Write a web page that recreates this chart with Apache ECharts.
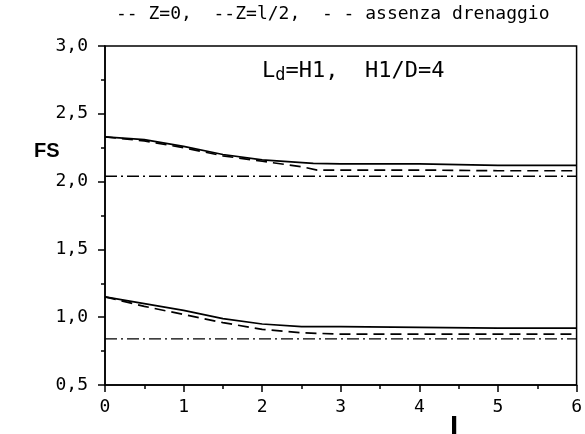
<!DOCTYPE html>
<html><head><meta charset="utf-8">
<script src="https://cdn.jsdelivr.net/npm/echarts@6/dist/echarts.min.js"></script>
<style>html,body{margin:0;padding:0;background:#fff}#c{width:585px;height:434px}</style>
</head><body><div id="c"></div>
<script>
// Data
const xUpper = [0, 0.5, 1.0, 1.5, 2.0, 2.65, 3, 4, 5, 6];
const z0Upper = [2.33, 2.31, 2.26, 2.20, 2.16, 2.135, 2.13, 2.13, 2.12, 2.12];
const xDashUpper = [0, 0.5, 1.0, 1.5, 2.0, 2.5, 2.7, 3, 4, 5, 6];
const zHalfUpper = [2.33, 2.30, 2.25, 2.19, 2.15, 2.11, 2.085, 2.085, 2.085, 2.08, 2.08];
const xLower = [0, 0.5, 1.0, 1.5, 2.0, 2.5, 3, 4, 5, 6];
const z0Lower = [1.15, 1.10, 1.05, 0.99, 0.95, 0.93, 0.93, 0.925, 0.92, 0.92];
const zHalfLower = [1.15, 1.08, 1.02, 0.96, 0.91, 0.885, 0.875, 0.875, 0.875, 0.875];
const xNoDrain = [0, 6];
const noDrainUpper = [2.04, 2.04];
const noDrainLower = [0.84, 0.84];
const yTicks = [0.5, 1.0, 1.5, 2.0, 2.5, 3.0];
const xTicks = [0, 1, 2, 3, 4, 5, 6];
const legendText = '-- Z=0,  --Z=l/2,  - - assenza drenaggio';

const pairs = (xs, ys) => xs.map((x, i) => [x, ys[i]]);
const solid = {color: '#000', width: 1.7, type: 'solid'};
const dashed = {color: '#000', width: 1.7, type: [11, 6]};
const dashdot = {color: '#000', width: 1.4, type: [12, 4, 2, 4]};
const mk = (name, data, ls) => ({name, type: 'line', data, showSymbol: false, symbol: 'none', lineStyle: ls, animation: false});

const mono = '"DejaVu Sans Mono"';

const chart = echarts.init(document.getElementById('c'), null, {renderer: 'canvas'});
chart.setOption({
  animation: false,
  backgroundColor: '#fff',
  grid: {left: 105, right: 6, top: 46, bottom: 49, show: true, borderColor: '#000', borderWidth: 1.5},
  xAxis: {
    type: 'value', min: 0, max: 6, interval: 1,
    axisLine: {lineStyle: {color: '#000', width: 1.5}},
    axisTick: {inside: false, length: 7, lineStyle: {color: '#000', width: 1.5}},
    minorTick: {show: true, splitNumber: 2, length: 4, lineStyle: {color: '#000', width: 1.5}},
    splitLine: {show: false},
    axisLabel: {color: '#000', fontSize: 18, fontFamily: mono, margin: 13,
      formatter: v => String(v)}
  },
  yAxis: {
    type: 'value', min: 0.5, max: 3.0, interval: 0.5,
    axisLine: {lineStyle: {color: '#000', width: 1.5}},
    axisTick: {inside: false, length: 7, lineStyle: {color: '#000', width: 1.5}},
    minorTick: {show: true, splitNumber: 2, length: 4, lineStyle: {color: '#000', width: 1.5}},
    splitLine: {show: false},
    axisLabel: {color: '#000', fontSize: 18, fontFamily: mono, margin: 17,
      formatter: v => v.toFixed(1).replace('.', ',')}
  },
  series: [
    mk('Z=0', pairs(xUpper, z0Upper), solid),
    mk('Z=0 ', pairs(xLower, z0Lower), solid),
    mk('Z=l/2', pairs(xDashUpper, zHalfUpper), dashed),
    mk('Z=l/2 ', pairs(xLower, zHalfLower), dashed),
    mk('assenza drenaggio', pairs(xNoDrain, noDrainUpper), dashdot),
    mk('assenza drenaggio ', pairs(xNoDrain, noDrainLower), dashdot)
  ],
  graphic: [
    {type: 'text', left: 116, top: 5, style: {text: legendText, fill: '#000', font: '18px "DejaVu Sans Mono", monospace'}},
    {type: 'text', left: 34, top: 141, style: {text: 'FS', fill: '#000', font: 'bold 20px "Liberation Sans", sans-serif'}},
    {type: 'text', left: 450, top: 417, style: {text: 'l', fill: '#000', font: 'bold 24px "DejaVu Sans", sans-serif'}},
    {type: 'text', left: 262, top: 60, style: {
      rich: {
        b: {fill: '#000', font: '22px "DejaVu Sans Mono", monospace'},
        s: {fill: '#000', font: '17px "DejaVu Sans Mono", monospace', verticalAlign: 'bottom', padding: [10, 0, 0, 0]}
      },
      text: '{b|L}{s|d}{b|=H1,  H1/D=4}'
    }}
  ]
});
</script></body></html>
